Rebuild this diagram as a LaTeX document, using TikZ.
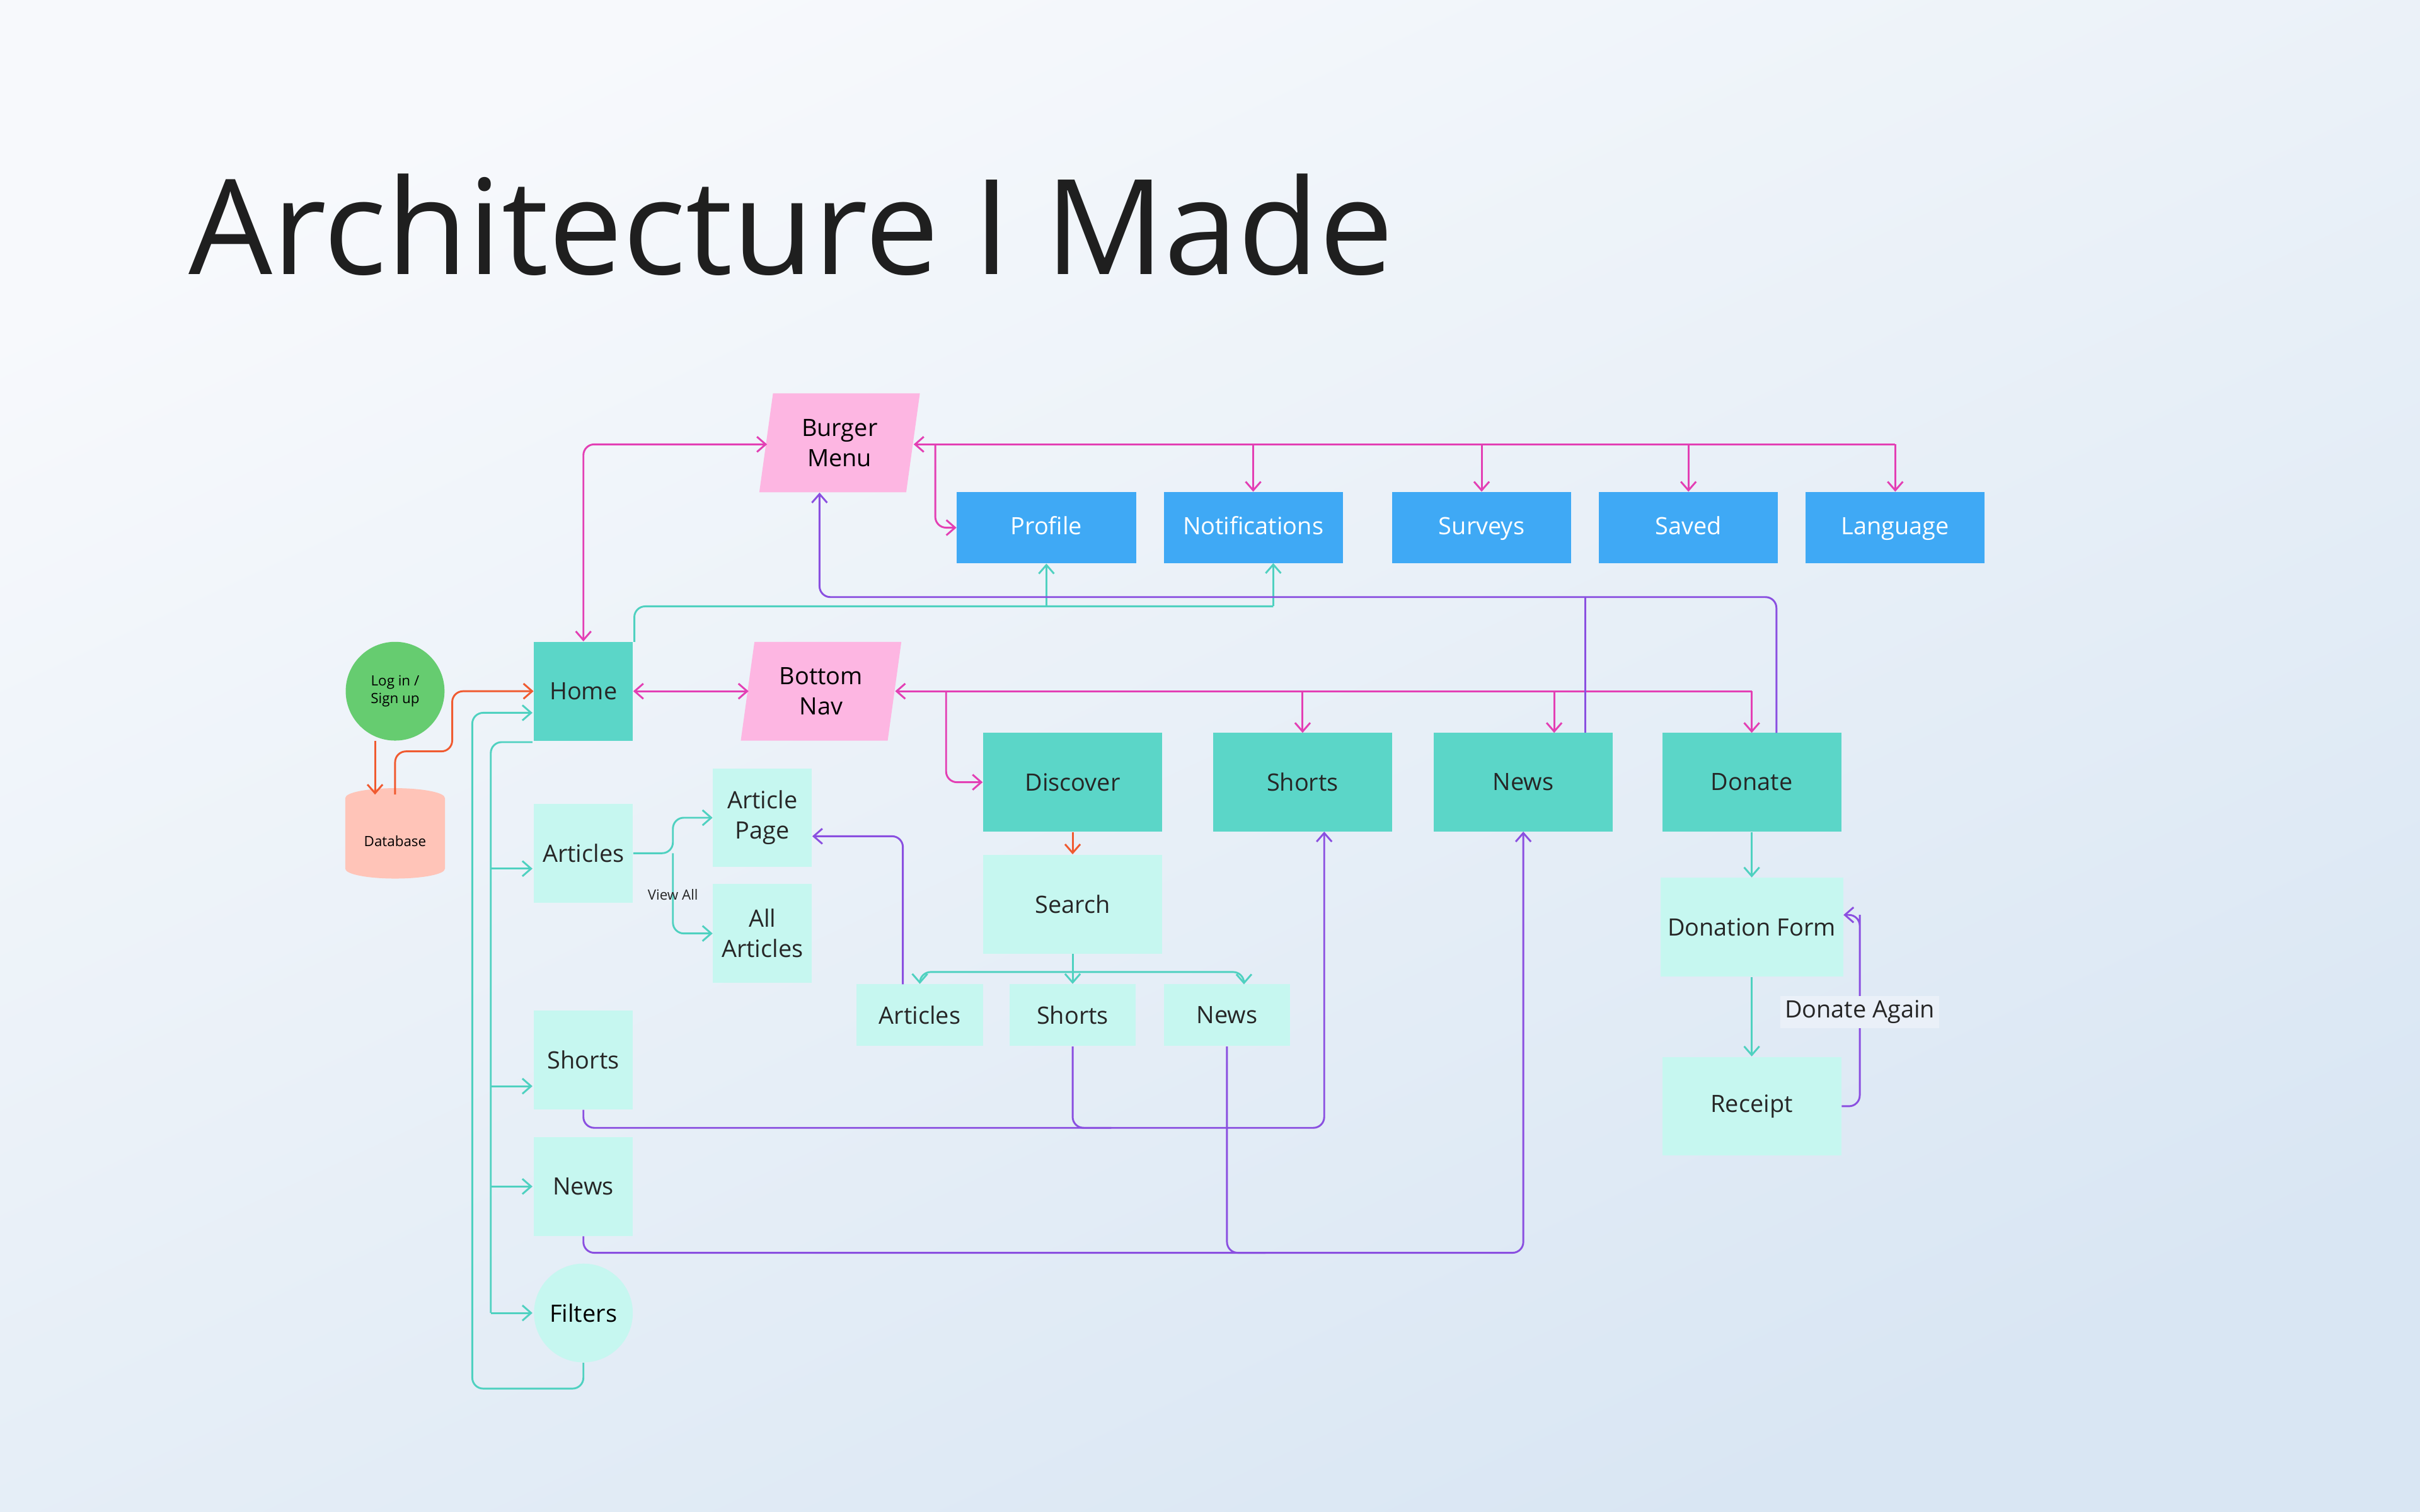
\documentclass[tikz,border=0pt]{standalone}
\usepackage{fontspec}
\setmainfont{Open Sans}
\usetikzlibrary{shapes.geometric,arrows.meta}
\definecolor{pinkfill}{HTML}{FDB6E2}
\definecolor{bluefill}{HTML}{3FA9F5}
\definecolor{tealfill}{HTML}{5BD6C8}
\definecolor{lightfill}{HTML}{C6F7F0}
\definecolor{greenfill}{HTML}{66CC70}
\definecolor{dbfill}{HTML}{FFC4B8}
\definecolor{pinkline}{HTML}{E33FB4}
\definecolor{tealline}{HTML}{4FD1C0}
\definecolor{purpline}{HTML}{8A4FE0}
\definecolor{redline}{HTML}{F05A30}
\definecolor{bgtop}{HTML}{F7F9FC}
\definecolor{bgbottom}{HTML}{D9E6F3}
\tikzset{
  box/.style={rectangle, minimum width=2.9cm, minimum height=1.6cm, align=center, font=\fontsize{11}{14}\selectfont, text=black!85},
  para/.style={trapezium, trapezium left angle=74, trapezium right angle=106, trapezium stretches body, fill=pinkfill, minimum width=2.6cm, minimum height=1.6cm, align=center, font=\fontsize{11}{14}\selectfont, inner sep=0pt},
  menu/.style={box, fill=bluefill, minimum height=1.15cm, text=white, text height=1.6ex, text depth=0.45ex},
  nav/.style={box, fill=tealfill},
  page/.style={box, fill=lightfill},
  tab/.style={box, fill=lightfill, minimum width=2.05cm, minimum height=1cm},
  sq/.style={minimum width=1.6cm},
  link/.style={line width=0.85pt, rounded corners=5pt, -{Straight Barb[length=4pt,width=7pt]}},
}
\begin{document}
\begin{tikzpicture}[x=0.025cm,y=-0.025cm]
  \shade[top color=bgtop, bottom color=bgbottom, shading angle=25] (0,0) rectangle (1568,980);
  \useasboundingbox (0,0) rectangle (1568,980);
  \node[anchor=base west, font=\fontsize{61}{66}\selectfont, text=black!88, inner sep=0pt] (title) at (122,178) {Architecture I Made};

  % top menu
  \node[para] (burger) at (544,287) {Burger\\Menu};
  \node[menu] (profile) at (678,342) {Profile};
  \node[menu] (notif) at (812,342) {Notifications};
  \node[menu] (surveys) at (960,342) {Surveys};
  \node[menu] (saved) at (1094,342) {Saved};
  \node[menu] (lang) at (1228,342) {Language};

  % login and home
  \node[circle, fill=greenfill, minimum size=1.6cm, align=center, font=\fontsize{6.5}{8}\selectfont] (login) at (256,448) {Log in /\\Sign up};
  \node[cylinder, shape border rotate=90, aspect=0.25, fill=dbfill, draw=dbfill, minimum width=1.6cm, minimum height=1.45cm, font=\fontsize{6.5}{8}\selectfont] (db) at (256,545) {Database};
  \node[nav, sq] (home) at (378,448) {Home};
  \node[para] (bottom) at (532,448) {Bottom\\Nav};

  % bottom nav tabs
  \node[nav] (discover) at (695,507) {Discover};
  \node[nav] (shorts) at (844,507) {Shorts};
  \node[nav] (news) at (987,507) {News};
  \node[nav] (donate) at (1135,507) {Donate};
  \node[page] (search) at (695,586) {Search};
  \node[tab] (sarticles) at (596,658) {Articles};
  \node[tab] (sshorts) at (695,658) {Shorts};
  \node[tab] (snews) at (795,658) {News};
  \node[page] (form) at (1135,601) {Donation Form};
  \node[page] (receipt) at (1135,717) {Receipt};

  % home column
  \node[page, sq] (articles) at (378,553) {Articles};
  \node[page, sq] (artpage) at (494,530) {Article\\Page};
  \node[page, sq] (allart) at (494,605) {All\\Articles};
  \node[page, sq] (hshorts) at (378,687) {Shorts};
  \node[page, sq] (hnews) at (378,769) {News};
  \node[circle, fill=lightfill, minimum size=1.6cm, font=\fontsize{11}{14}\selectfont] (filters) at (378,851) {Filters};

  % pink links
  \draw[link, pinkline, {Straight Barb[length=4pt,width=7pt]}-{Straight Barb[length=4pt,width=7pt]}] (home.north) |- (497,288);
  \draw[link, pinkline, {Straight Barb[length=4pt,width=7pt]}-] (592,288) -- (1228,288);
  \foreach \n/\x in {notif/812, surveys/960, saved/1094, lang/1228}
    \draw[link, pinkline] (\x,288) -- (\n.north);
  \draw[link, pinkline] (606,288) |- (profile.west);
  \draw[link, pinkline, {Straight Barb[length=4pt,width=7pt]}-{Straight Barb[length=4pt,width=7pt]}] (home.east) -- (485,448);
  \draw[link, pinkline, {Straight Barb[length=4pt,width=7pt]}-] (580,448) -- (1135,448);
  \foreach \n/\x in {shorts/844, news/1007, donate/1135}
    \draw[link, pinkline] (\x,448) -- (\x,475);
  \draw[link, pinkline] (613,448) |- (discover.west);

  % teal links
  \draw[link, tealline, -] (411,416) |- (825,393);
  \draw[link, tealline] (678,393) -- (profile.south);
  \draw[link, tealline] (825,393) -- (825,365);
  \draw[link, tealline] (filters.south) |- (306,900) |- (345,462);
  \draw[link, tealline, -] (345,481) -| (318,851);
  \foreach \n/\y in {articles/563, hshorts/704, hnews/769, filters/851}
    \draw[link, tealline] (318,\y) -- (345,\y);
  \draw[link, tealline] (articles.east) -- (436,553) |- (artpage.west);
  \draw[link, tealline] (436,553) |- (allart.west);
  \node[font=\fontsize{6.5}{8}\selectfont, text=black!85] (viewall) at (436,580) {View All};
  \draw[link, tealline, -] (search.south) -- (695,630);
  \draw[link, tealline] (695,630) -| (sarticles.north);
  \draw[link, tealline] (695,630) -- (sshorts.north);
  \draw[link, tealline] (695,630) -| (806,638);
  \draw[link, tealline] (donate.south) -- (form.north);
  \draw[link, tealline] (form.south) -- (receipt.north);

  % purple links
  \draw[link, purpline, {Straight Barb[length=4pt,width=7pt]}-] (burger.south -| 531,320) |- (1151,387) -- (1151,475);
  \draw[link, purpline, -] (1027,387) -- (1027,475);
  \draw[link, purpline] (585,638) |- (artpage.east |- 542,542);
  \draw[link, purpline] (hshorts.south) |- (858,731) -- (858,539);
  \draw[link, purpline, -] (sshorts.south) |- (720,731);
  \draw[link, purpline] (hnews.south) |- (987,812) -- (987,539);
  \draw[link, purpline, -] (snews.south) |- (820,812);
  \draw[link, purpline] (receipt.east) -| (1205,600) |- (form.east |- 593,593);
  \node[fill=bgtop!55!bgbottom, inner sep=2pt, font=\fontsize{11}{14}\selectfont, text=black!85] (again) at (1205,656) {Donate Again};

  % login links
  \draw[link, redline] (243,480) -- (243,515);
  \draw[link, redline] (256,515) |- (293,487) |- (home.west);
  \draw[link, redline] (discover.south) -- (search.north);
\end{tikzpicture}
\end{document}
